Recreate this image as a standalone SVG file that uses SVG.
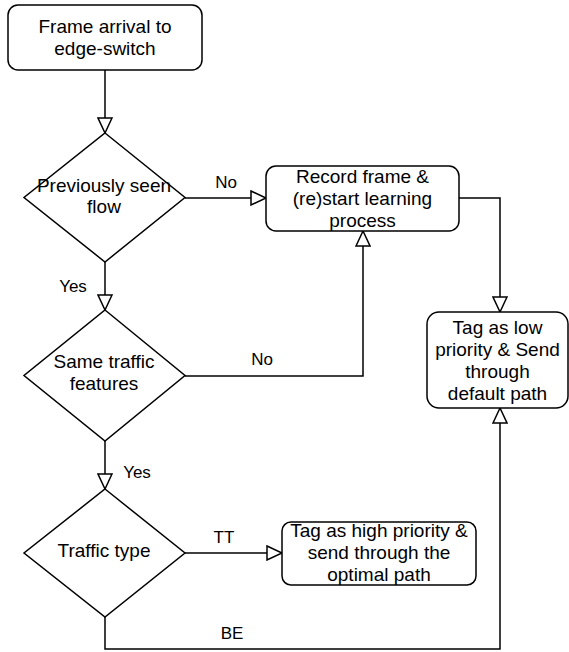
<svg xmlns="http://www.w3.org/2000/svg" width="569" height="652" viewBox="0 0 569 652">
<style>
.box{fill:#fff;stroke:#000;stroke-width:1.5}
.t{font-family:"Liberation Sans",Arial,sans-serif;font-size:19px;fill:#000;text-anchor:middle}
.l{font-family:"Liberation Sans",Arial,sans-serif;font-size:17px;fill:#000;text-anchor:middle}
.c{fill:none;stroke:#000;stroke-width:1.5;marker-end:url(#arr)}
</style>
<defs>
<marker id="arr" markerUnits="userSpaceOnUse" markerWidth="18" markerHeight="16" refX="16" refY="8" orient="auto" viewBox="0 0 18 16">
<path d="M1,1 L16,8 L1,15 Z" fill="#fff" stroke="#000" stroke-width="1.5"/>
</marker>
</defs>
<g id="connectors">
<path class="c" d="M105,70 V133"/>
<path class="c" d="M185,198 H266"/>
<path class="c" d="M459,198 H500 V312"/>
<path class="c" d="M105,262 V310"/>
<path class="c" d="M185,376 H363 V231"/>
<path class="c" d="M105,440 V489"/>
<path class="c" d="M185,553 H282"/>
<path class="c" d="M105,617 V649 H500 V408"/>
<text class="l" x="226" y="188">No</text>
<text class="l" x="73" y="292">Yes</text>
<text class="l" x="262" y="365">No</text>
<text class="l" x="137" y="478">Yes</text>
<text class="l" x="224" y="543">TT</text>
<text class="l" x="232" y="639">BE</text>
</g>
<g id="start">
<rect class="box" x="8" y="5" width="194" height="65" rx="10"/>
<text class="t" x="105" y="33">Frame arrival to</text>
<text class="t" x="105" y="55">edge-switch</text>
</g>
<g id="seen">
<path class="box" d="M105,133 L185,197.5 L105,262 L24,197.5 Z"/>
<text class="t" x="104" y="192">Previously seen</text>
<text class="t" x="104" y="213">flow</text>
</g>
<g id="record">
<rect class="box" x="266" y="166" width="193" height="65" rx="10"/>
<text class="t" x="362.5" y="183">Record frame &amp;</text>
<text class="t" x="362.5" y="205">(re)start learning</text>
<text class="t" x="362.5" y="227">process</text>
</g>
<g id="low">
<rect class="box" x="427" y="312" width="141" height="96" rx="12"/>
<text class="t" x="497.5" y="334">Tag as low</text>
<text class="t" x="497.5" y="356">priority &amp; Send</text>
<text class="t" x="497.5" y="378">through</text>
<text class="t" x="497.5" y="400">default path</text>
</g>
<g id="features">
<path class="box" d="M105,310 L185,375.5 L105,441 L24,375.5 Z"/>
<text class="t" x="104" y="368">Same traffic</text>
<text class="t" x="104" y="390">features</text>
</g>
<g id="type">
<path class="box" d="M105,489 L185,553 L105,617 L24,553 Z"/>
<text class="t" x="104" y="557">Traffic type</text>
</g>
<g id="high">
<rect class="box" x="282" y="522" width="194" height="63" rx="9"/>
<text class="t" x="379" y="537">Tag as high priority &amp;</text>
<text class="t" x="379" y="559">send through the</text>
<text class="t" x="379" y="581">optimal path</text>
</g>
</svg>
